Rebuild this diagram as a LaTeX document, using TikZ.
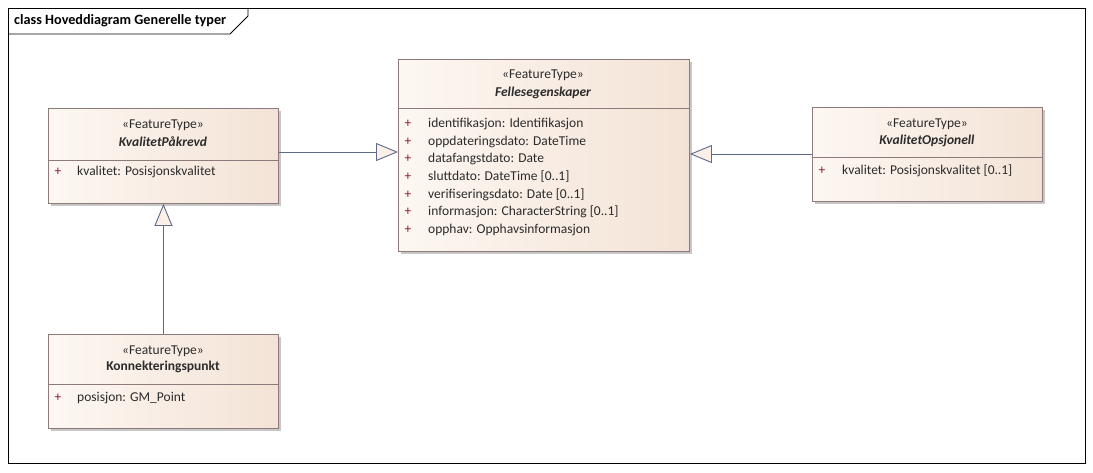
\documentclass[tikz,border=0pt]{standalone}
\usepackage{fontspec}
\setmainfont{Carlito}
\usetikzlibrary{arrows.meta,shadows,positioning}
\definecolor{boxborder}{HTML}{8E7A7A}
\definecolor{boxleft}{HTML}{FDF7F2}
\definecolor{boxright}{HTML}{F3E3D6}
\definecolor{txt}{HTML}{2B2B2B}
\definecolor{plusc}{HTML}{8B1A3A}
\definecolor{linec}{HTML}{5C6A8C}
\definecolor{arrfill}{HTML}{FCEFE8}
\tikzset{
  umlbox/.style={draw=boxborder, line width=0.9pt, left color=boxleft, right color=boxright, anchor=north west, inner sep=0pt,
     drop shadow={shadow xshift=3pt, shadow yshift=-3pt, fill=black!22, opacity=1}},
  stereo/.style={font=\fontsize{13.5}{15}\selectfont, text=txt, inner sep=0pt, anchor=center},
  cname/.style={font=\fontsize{13.5}{15}\selectfont\bfseries\itshape, text=txt, inner sep=0pt, anchor=center},
  cnameup/.style={font=\fontsize{13.5}{15}\selectfont\bfseries, text=txt, inner sep=0pt, anchor=center},
  attr/.style={font=\fontsize{13.5}{15}\selectfont, text=txt, inner sep=0pt, anchor=west},
  plus/.style={font=\fontsize{13.5}{15}\selectfont, text=plusc, inner sep=0pt, anchor=center},
  gen/.style={draw=linec, line width=0.9pt, -{Triangle[length=22pt,width=18pt,fill=arrfill]}},
}
\begin{document}
\begin{tikzpicture}[x=1pt,y=-1pt]
\useasboundingbox (0,0) rectangle (1093,472);
\fill[white] (0,0) rectangle (1093,472);
% frame
\draw[black, line width=0.8pt] (8,8) rectangle (1085,463);
\draw[black, line width=0.8pt] (8,34) -- (230,34) -- (248,16) -- (248,8);
\node[font=\fontsize{14.2}{16}\selectfont\bfseries, anchor=west, inner sep=0pt] (title) at (14,21) {class Hoveddiagram Generelle typer};

% KvalitetPåkrevd
\node[umlbox, minimum width=230pt, minimum height=95pt] (kp) at (48,108) {};
\draw[boxborder, line width=0.9pt] (48,160) -- (278,160);
\node[stereo] (kps) at (163,125) {«FeatureType»};
\node[cname] (kpn) at (163,142) {KvalitetPåkrevd};
\node[plus] (kpp) at (58,172) {+};
\node[attr] (kpa) at (77,172) {kvalitet: Posisjonskvalitet};

% Fellesegenskaper
\node[umlbox, minimum width=291pt, minimum height=192pt] (fe) at (398,59) {};
\draw[boxborder, line width=0.9pt] (398,108) -- (689,108);
\node[stereo] (fes) at (543,75) {«FeatureType»};
\node[cname] (fen) at (543,93) {Fellesegenskaper};
\foreach \i/\t in {0/{identifikasjon: Identifikasjon},1/{oppdateringsdato: DateTime},2/{datafangstdato: Date},3/{sluttdato: DateTime [0..1]},4/{verifiseringsdato: Date [0..1]},5/{informasjon: CharacterString [0..1]},6/{opphav: Opphavsinformasjon}}{
  \node[plus] (fep\i) at (408,124+17.6*\i) {+};
  \node[attr] (fea\i) at (428,124+17.6*\i) {\t};
}

% KvalitetOpsjonell
\node[umlbox, minimum width=230pt, minimum height=94pt] (ko) at (812,107) {};
\draw[boxborder, line width=0.9pt] (812,157) -- (1042,157);
\node[stereo] (kos) at (927,124) {«FeatureType»};
\node[cname] (kon) at (927,141) {KvalitetOpsjonell};
\node[plus] (kop) at (822,171) {+};
\node[attr] (koa) at (842,171) {kvalitet: Posisjonskvalitet [0..1]};

% Konnekteringspunkt
\node[umlbox, minimum width=230pt, minimum height=94pt] (kn) at (48,334) {};
\draw[boxborder, line width=0.9pt] (48,384) -- (278,384);
\node[stereo] (kns) at (163,351) {«FeatureType»};
\node[cnameup] (knn) at (163,367) {Konnekteringspunkt};
\node[plus] (knp) at (58,398) {+};
\node[attr] (kna) at (77,398) {posisjon: GM\_Point};

% generalizations
\draw[gen] (kp.east |- 0,152) -- (fe.west |- 0,152);
\draw[gen] (ko.west |- 0,154) -- (fe.east |- 0,154);
\draw[gen] (kn.north) -- (kp.south);
\end{tikzpicture}
\end{document}
